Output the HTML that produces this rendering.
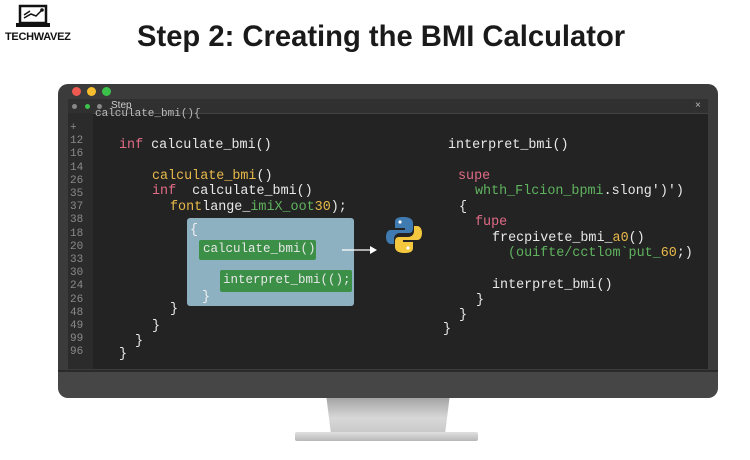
<!DOCTYPE html>
<html><head><meta charset="utf-8"><style>
body{margin:0;width:750px;height:460px;background:#fff;position:relative;overflow:hidden;font-family:"Liberation Sans",sans-serif}
.a{position:absolute;white-space:pre}
.m{font-family:"Liberation Mono",monospace;font-size:13.4px;color:#e8e8e8}
.ln{font-family:"Liberation Mono",monospace;font-size:11px;color:#8a8a8a;line-height:13.2px}
.r{color:#e06c86}.y{color:#e8b94a}.g{color:#5fb35f}
</style></head><body>
<svg class="a" style="left:16px;top:4px" width="34" height="26" viewBox="0 0 34 26"><rect x="4" y="2" width="26" height="17" fill="none" stroke="#111" stroke-width="2.5"/><rect x="0" y="19" width="34" height="4" fill="#111"/><path d="M8 14 L15 10 L20 12 L26 6 M8 11 L14 7" stroke="#111" stroke-width="1.5" fill="none"/><circle cx="26" cy="6" r="1.8" fill="#111"/></svg>
<div class="a" style="left:5px;top:31px;font-size:11px;font-weight:bold;color:#111;letter-spacing:-0.3px">TECHWAVEZ</div>
<div class="a" style="left:137px;top:21px;font-size:29.2px;font-weight:bold;color:#1a1a1a">Step 2: Creating the BMI Calculator</div>
<!-- stand -->
<div class="a" style="left:326px;top:394px;width:124px;height:40px;background:linear-gradient(#9a9a9a,#d8d8d8 60%,#c8c8c8);clip-path:polygon(0 0,100% 0,96% 100%,4% 100%)"></div>
<div class="a" style="left:295px;top:432px;width:183px;height:9px;background:linear-gradient(#e0e0e0,#b8b8b8);border-radius:2px"></div>
<!-- monitor -->
<div class="a" style="left:58px;top:84px;width:660px;height:312px;background:#3b3b3b;border-radius:10px"></div>
<div class="a" style="left:58px;top:370px;width:660px;height:26px;background:#464646;border-radius:0 0 10px 10px;border-top:2px solid #2a2a2a"></div>
<div class="a" style="left:72px;top:87px;width:9px;height:9px;border-radius:50%;background:#ee5a50"></div>
<div class="a" style="left:87px;top:87px;width:9px;height:9px;border-radius:50%;background:#f5be2e"></div>
<div class="a" style="left:102px;top:87px;width:9px;height:9px;border-radius:50%;background:#3cc14b"></div>
<div class="a" style="left:68px;top:99px;width:640px;height:270px;background:#232323"></div>
<div class="a" style="left:68px;top:99px;width:640px;height:14px;background:#303030;border-bottom:1px solid #444"></div>
<div class="a" style="left:72px;top:104px;width:5px;height:5px;border-radius:50%;background:#888"></div>
<div class="a" style="left:85px;top:104px;width:5px;height:5px;border-radius:50%;background:#3cc14b"></div>
<div class="a" style="left:97px;top:104px;width:5px;height:5px;border-radius:50%;background:#888"></div>
<div class="a" style="left:111px;top:100px;font-size:10px;color:#ccc">Step</div>
<div class="a" style="left:695px;top:100px;font-size:10px;color:#bbb">×</div>
<div class="a" style="left:68px;top:113px;width:25px;height:256px;background:#2b2b2b"></div>
<div class="a m" style="left:95px;top:108px;font-size:11px;color:#bbb">calculate_bmi(){</div>
<div class="a ln" style="left:70px;top:122px">+
12
16
14
26
35
37
38
18
20
33
30
24
26
48
49
99
96</div>
<div class="a m" style="left:119px;top:138px"><span class="r">inf</span> calculate_bmi()</div>
<div class="a m" style="left:152px;top:169px"><span class="y">calculate_bmi</span>()</div>
<div class="a m" style="left:152px;top:184px"><span class="r">inf</span>  calculate_bmi()</div>
<div class="a m" style="left:170px;top:200px"><span class="y">font</span>lange_<span class="g">imiX_oot</span><span class="y">30</span>);</div>
<div class="a" style="left:187px;top:218px;width:167px;height:88px;background:#8db1c1;border-radius:3px"></div>
<div class="a m" style="left:190px;top:223px;color:#eee">{</div>
<div class="a" style="left:199px;top:240px;width:117px;height:20px;background:#3c8f47;border-radius:2px"></div>
<div class="a m" style="left:203px;top:242px;font-size:12.5px">calculate_bmi()</div>
<div class="a" style="left:220px;top:270px;width:132px;height:22px;background:#3c8f47;border-radius:2px"></div>
<div class="a m" style="left:223px;top:273px;font-size:12.5px">interpret_bmi(();</div>
<div class="a m" style="left:202px;top:290px;color:#eee">}</div>
<svg class="a" style="left:340px;top:244px" width="40" height="12"><line x1="2" y1="6" x2="34" y2="6" stroke="#fff" stroke-width="1.3"/><path d="M30 2 L37 6 L30 10Z" fill="#fff"/></svg>
<div class="a m" style="left:170px;top:302px">}</div>
<div class="a m" style="left:152px;top:319px">}</div>
<div class="a m" style="left:135px;top:334px">}</div>
<div class="a m" style="left:119px;top:347px">}</div>
<!-- python -->
<svg class="a" style="left:385px;top:215px" width="38" height="40" viewBox="0 0 38 40"><path d="M19 2 C10 2 10 5 10 8 V13 H20 V15 H6 C2 15 1 19 1 22 C1 26 3 29 6 29 H9 V24 C9 20 12 18 15 18 H24 C27 18 28 16 28 13 V8 C28 4 24 2 19 2Z" fill="#3f7bb0"/><circle cx="15" cy="7" r="1.6" fill="#fff"/><path d="M19 38 C28 38 28 35 28 32 V27 H18 V25 H32 C36 25 37 21 37 18 C37 14 35 11 32 11 H29 V16 C29 20 26 22 23 22 H14 C11 22 10 24 10 27 V32 C10 36 14 38 19 38Z" fill="#f3c83f"/><circle cx="23" cy="33" r="1.6" fill="#fff"/></svg>
<div class="a m" style="left:448px;top:138px">interpret_bmi()</div>
<div class="a m r" style="left:458px;top:169px">supe</div>
<div class="a m" style="left:475px;top:184px"><span class="g">whth_Flcion_bpmi</span>.slong')')</div>
<div class="a m" style="left:459px;top:200px">{</div>
<div class="a m r" style="left:475px;top:215px">fupe</div>
<div class="a m" style="left:492px;top:231px">frecpivete_bmi_<span class="y">a0</span>()</div>
<div class="a m" style="left:508px;top:246px"><span class="g">(ouifte/cctlom`put_</span><span class="y">60</span>;)</div>
<div class="a m" style="left:492px;top:278px">interpret_bmi()</div>
<div class="a m" style="left:476px;top:293px">}</div>
<div class="a m" style="left:459px;top:308px">}</div>
<div class="a m" style="left:443px;top:322px">}</div>
</body></html>
